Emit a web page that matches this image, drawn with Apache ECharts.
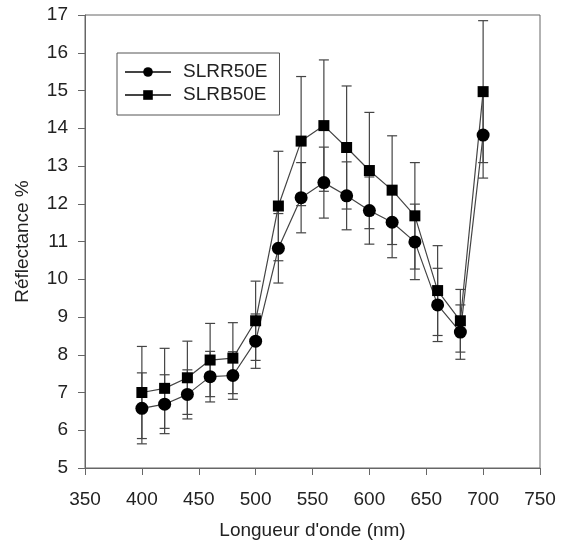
<!DOCTYPE html>
<html>
<head>
<meta charset="utf-8">
<script src="https://cdn.jsdelivr.net/npm/echarts@6/dist/echarts.min.js"></script>
<style>
  html, body { margin: 0; padding: 0; background: #fff; }
  #chart { width: 565px; height: 547px; }
</style>
</head>
<body>
<div id="chart"></div>
<script>
// longueurs d'onde (nm)
var wavelengths = [400, 420, 440, 460, 480, 500, 520, 540, 560, 580, 600, 620, 640, 660, 680, 700];
// SLRR50E (cercles)
var slrrMean = [6.58, 6.69, 6.95, 7.42, 7.45, 8.36, 10.82, 12.16, 12.56, 12.21, 11.82, 11.51, 10.99, 9.32, 8.60, 13.82];
var slrrErr = [0.94, 0.78, 0.65, 0.67, 0.63, 0.72, 0.92, 0.93, 0.94, 0.90, 0.89, 0.94, 1.00, 0.97, 0.72, 1.14];
// SLRB50E (carres)
var slrbMean = [7.00, 7.11, 7.39, 7.86, 7.91, 8.90, 11.94, 13.66, 14.07, 13.49, 12.88, 12.36, 11.68, 9.70, 8.90, 14.97];
var slrbErr = [1.22, 1.06, 0.97, 0.97, 0.94, 1.05, 1.45, 1.71, 1.74, 1.63, 1.54, 1.44, 1.41, 1.19, 0.83, 1.88];

var xTicks = [350, 400, 450, 500, 550, 600, 650, 700, 750];
var yTicks = [5, 6, 7, 8, 9, 10, 11, 12, 13, 14, 15, 16, 17];

function pairs(xs, ys) {
  return xs.map(function (x, i) { return [x, ys[i]]; });
}
function errData(xs, ys, es) {
  return xs.map(function (x, i) { return [x, ys[i] - es[i], ys[i] + es[i]]; });
}

// barres d'erreur
function renderErr(params, api) {
  var top = api.coord([api.value(0), api.value(2)]);
  var bot = api.coord([api.value(0), api.value(1)]);
  var hw = 5;
  var st = { stroke: "#444", lineWidth: 1.2 };
  return {
    type: "group",
    children: [
      { type: "line", shape: { x1: top[0], y1: top[1], x2: bot[0], y2: bot[1] }, style: st },
      { type: "line", shape: { x1: top[0] - hw, y1: top[1], x2: top[0] + hw, y2: top[1] }, style: st },
      { type: "line", shape: { x1: bot[0] - hw, y1: bot[1], x2: bot[0] + hw, y2: bot[1] }, style: st }
    ]
  };
}

var myChart = echarts.init(document.getElementById("chart"));
var txt = { color: "#222", fontFamily: "Liberation Sans, Arial, sans-serif", fontSize: 19 };

var option = {
  animation: false,
  backgroundColor: "#fff",
  grid: {
    left: 85, right: 25, top: 15, bottom: 79,
    show: true, borderColor: "#666", borderWidth: 1
  },
  legend: {
    data: ["SLRR50E", "SLRB50E"],
    orient: "vertical",
    left: 117, top: 53,
    padding: [9, 12, 10, 7],
    itemWidth: 46, itemHeight: 12, itemGap: 3,
    borderColor: "#555", borderWidth: 1,
    textStyle: Object.assign({}, txt, { padding: [0, 0, 0, 7], lineHeight: 20 })
  },
  xAxis: {
    type: "value",
    min: 350, max: 750, interval: 50,
    name: "Longueur d'onde (nm)",
    nameLocation: "middle", nameGap: 53,
    nameTextStyle: txt,
    axisLine: { lineStyle: { color: "#666" } },
    axisTick: { show: true, length: 7, lineStyle: { color: "#666" } },
    axisLabel: Object.assign({}, txt, { margin: 22 }),
    splitLine: { show: false }
  },
  yAxis: {
    type: "value",
    min: 5, max: 17, interval: 1,
    name: "Réflectance %",
    nameLocation: "middle", nameGap: 53,
    nameTextStyle: txt,
    axisLine: { show: true, lineStyle: { color: "#666" } },
    axisTick: { show: true, length: 7, lineStyle: { color: "#666" } },
    axisLabel: Object.assign({}, txt, { margin: 17 }),
    splitLine: { show: false }
  },
  series: [
    {
      name: "errR", type: "custom", renderItem: renderErr,
      data: errData(wavelengths, slrrMean, slrrErr), z: 1, silent: true
    },
    {
      name: "errB", type: "custom", renderItem: renderErr,
      data: errData(wavelengths, slrbMean, slrbErr), z: 1, silent: true
    },
    {
      name: "SLRR50E", type: "line",
      data: pairs(wavelengths, slrrMean),
      symbol: "circle", symbolSize: 13,
      itemStyle: { color: "#000" },
      lineStyle: { color: "#444", width: 1.2 },
      z: 3
    },
    {
      name: "SLRB50E", type: "line",
      data: pairs(wavelengths, slrbMean),
      symbol: "rect", symbolSize: 11,
      itemStyle: { color: "#000" },
      lineStyle: { color: "#444", width: 1.2 },
      z: 3
    }
  ]
};

myChart.setOption(option);
window.addEventListener("resize", function () {
  myChart.resize();
});
</script>
</body>
</html>
